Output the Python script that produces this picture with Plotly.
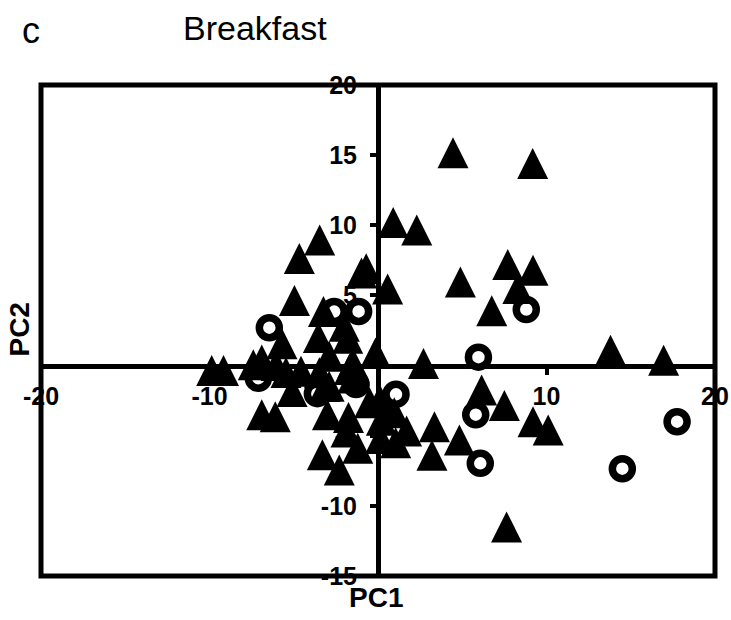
import plotly.graph_objects as go

# Triangle group (filled) PC scores
tri_x = [4.45, 9.18, 2.3, 0.9, 7.7, 9.2, 4.89, 8.3, 6.75, 13.8, 16.95, 2.7, 6.15, 7.5, 9.2, 10.1,
         3.35, 4.83, 3.2, 7.63,
         -4.67, -3.46, -0.98, -0.7, 0.57, -4.96, -3.24, -2.0, -3.54, -1.8, -5.7, -0.15, -2.9, -1.5,
         -9.87, -9.17, -7.4, -6.9, -6.05, -5.46, -4.57, -5.1, -6.9, -6.1,
         -3.48, -1.7, -3.15, -1.5, -2.9, 0.12, -0.5, 0.97, -3.0, -1.75, -1.9, 0.2, 0.15, 1.05, 1.7,
         -3.3, -2.3, -1.2]
tri_y = [15.17, 14.4, 9.67, 10.2, 7.2, 6.8, 5.95, 5.5, 3.9, 1.1, 0.38, 0.14, -1.75, -2.85, -4.0, -4.6,
         -4.36, -5.3, -6.4, -11.5,
         7.63, 8.96, 6.6, 6.9, 5.45, 4.64, 3.86, 2.8, 2.0, 1.95, 1.55, 0.9, 0.66, 0.2,
         -0.36, -0.36, 0.05, 0.4, 0.0, -0.5, -0.4, -1.85, -3.5, -3.65,
         -0.52, -0.28, -1.5, -0.88, -1.47, -2.47, -2.65, -3.37, -3.5, -3.7, -4.74, -3.9, -5.2, -5.5, -4.67,
         -6.35, -7.45, -5.9]

# Circle group (open) PC scores
circ_x = [8.8, 5.96, 5.8, 6.07, 14.5, 17.75, -6.45, -1.15, -2.6, -7.1, -3.6, -1.3, 1.07]
circ_y = [4.0, 0.6, -3.5, -6.97, -7.35, -4.0, 2.7, 3.86, 3.85, -0.9, -2.0, -1.35, -2.05]

x_ticks = [-20, -10, 10, 20]
y_ticks = [-15, -10, -5, 5, 10, 15, 20]

TRI_SIZE = 31

fig = go.Figure()
fig.add_trace(go.Scatter(
    x=circ_x, y=circ_y, mode="markers",
    marker=dict(symbol="circle", size=20, color="white",
                line=dict(color="black", width=7.5)),
    showlegend=False, hoverinfo="skip"))
fig.add_trace(go.Scatter(
    x=tri_x, y=tri_y, mode="markers",
    marker=dict(symbol="arrow-down", size=TRI_SIZE, color="black", angle=180,
                standoff=TRI_SIZE / 2, line=dict(width=0)),
    showlegend=False, hoverinfo="skip"))

tickfont = dict(family="Liberation Sans, Arial, sans-serif", size=25, color="black", weight="bold")

fig.update_layout(
    width=731, height=620, autosize=False,
    margin=dict(l=41, r=16, t=85, b=44, autoexpand=False),
    paper_bgcolor="white", plot_bgcolor="white",
    xaxis=dict(range=[-20, 20], anchor="free", position=15 / 35, automargin=False,
               showline=True, linecolor="black", linewidth=5,
               ticks="outside", ticklen=6, tickwidth=4, tickcolor="black",
               tickvals=x_ticks, ticktext=[str(v) for v in x_ticks],
               tickfont=tickfont, showgrid=False, zeroline=False,
               layer="below traces", ticklabelstandoff=0),
    yaxis=dict(range=[-15, 20], anchor="free", position=0.5, automargin=False,
               showline=True, linecolor="black", linewidth=5,
               ticks="outside", ticklen=6, tickwidth=4, tickcolor="black",
               tickvals=y_ticks, ticktext=[str(v) for v in y_ticks],
               tickfont=tickfont, showgrid=False, zeroline=False,
               layer="below traces", ticklabelstandoff=8),
    shapes=[dict(type="rect", xref="x domain", yref="y domain", x0=0, x1=1, y0=0, y1=1,
                 line=dict(color="black", width=5), fillcolor="rgba(0,0,0,0)", layer="above")],
    annotations=[
        dict(text="Breakfast", x=0.3175, y=1.117, xref="paper", yref="paper",
             xanchor="center", yanchor="middle", showarrow=False,
             font=dict(family="Liberation Sans, Arial", size=34, color="black")),
        dict(text="c", x=-0.0148, y=1.11, xref="paper", yref="paper",
             xanchor="center", yanchor="middle", showarrow=False,
             font=dict(family="Liberation Sans, Arial", size=36, color="black")),
        dict(text="PC2", x=-0.0326, y=0.502, xref="paper", yref="paper", textangle=-90,
             xanchor="center", yanchor="middle", showarrow=False,
             font=dict(family="Liberation Sans, Arial", size=28, color="black", weight="bold")),
        dict(text="PC1", x=0.497, y=-0.0435, xref="paper", yref="paper",
             xanchor="center", yanchor="middle", showarrow=False,
             font=dict(family="Liberation Sans, Arial", size=28, color="black", weight="bold")),
    ],
)

fig.write_html("out.html", config={"displayModeBar": False, "responsive": False},
               post_script="document.body.style.margin='0';document.body.style.overflow='hidden';")
